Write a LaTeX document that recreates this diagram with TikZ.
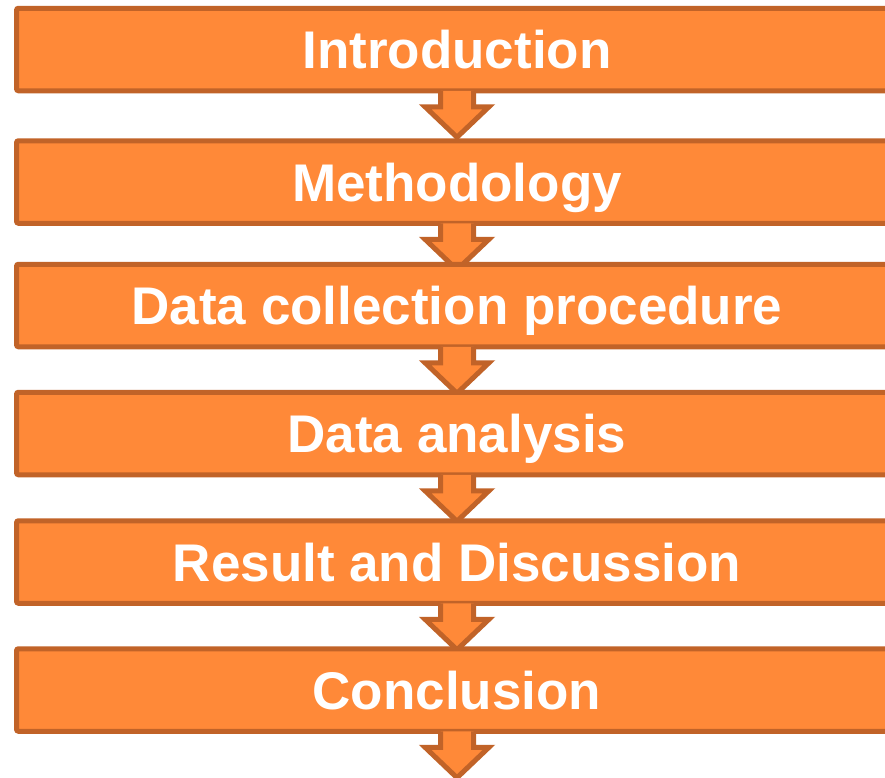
\documentclass[tikz,border=0pt]{standalone}
\usepackage{fontspec}
\setmainfont{Liberation Sans}
\usetikzlibrary{calc}
\definecolor{boxfill}{RGB}{255,137,56}
\definecolor{boxline}{RGB}{193,99,40}
\tikzset{
  stagebox/.style={draw=boxline, fill=boxfill, line width=5pt, rounded corners=2pt,
    minimum width=881pt, minimum height=82.5pt, inner sep=0pt,
    text=white, font=\fontsize{53}{60}\selectfont\bfseries,
    text height=38pt, text depth=0pt},
  flowarrow/.style={draw=boxline, fill=boxfill, line width=5pt, line join=miter}
}
\newcommand{\downarrowfrom}[1]{%
  \filldraw[flowarrow] ($(#1.south)+(-16.5,-2.5)$) -- ($(#1.south)+(-16.5,13.5)$)
    -- ($(#1.south)+(-32,13.5)$) -- ($(#1.south)+(0,44)$) -- ($(#1.south)+(32,13.5)$)
    -- ($(#1.south)+(16.5,13.5)$) -- ($(#1.south)+(16.5,-2.5)$);}
\begin{document}
\begin{tikzpicture}[x=1pt,y=-1pt]
\useasboundingbox (0,0) rectangle (885,777);
\clip (0,0) rectangle (885,777);
\node[stagebox] (b1) at (457,49.5) {Introduction};
\downarrowfrom{b1}
\node[stagebox] (b2) at (457,182) {Methodology};
\downarrowfrom{b2}
\node[stagebox] (b3) at (457,305.5) {Data collection procedure};
\downarrowfrom{b3}
\node[stagebox] (b4) at (457,433.5) {Data analysis};
\downarrowfrom{b4}
\node[stagebox] (b5) at (457,562) {Result and Discussion};
\downarrowfrom{b5}
\node[stagebox] (b6) at (457,690) {Conclusion};
\downarrowfrom{b6}
\end{tikzpicture}
\end{document}
